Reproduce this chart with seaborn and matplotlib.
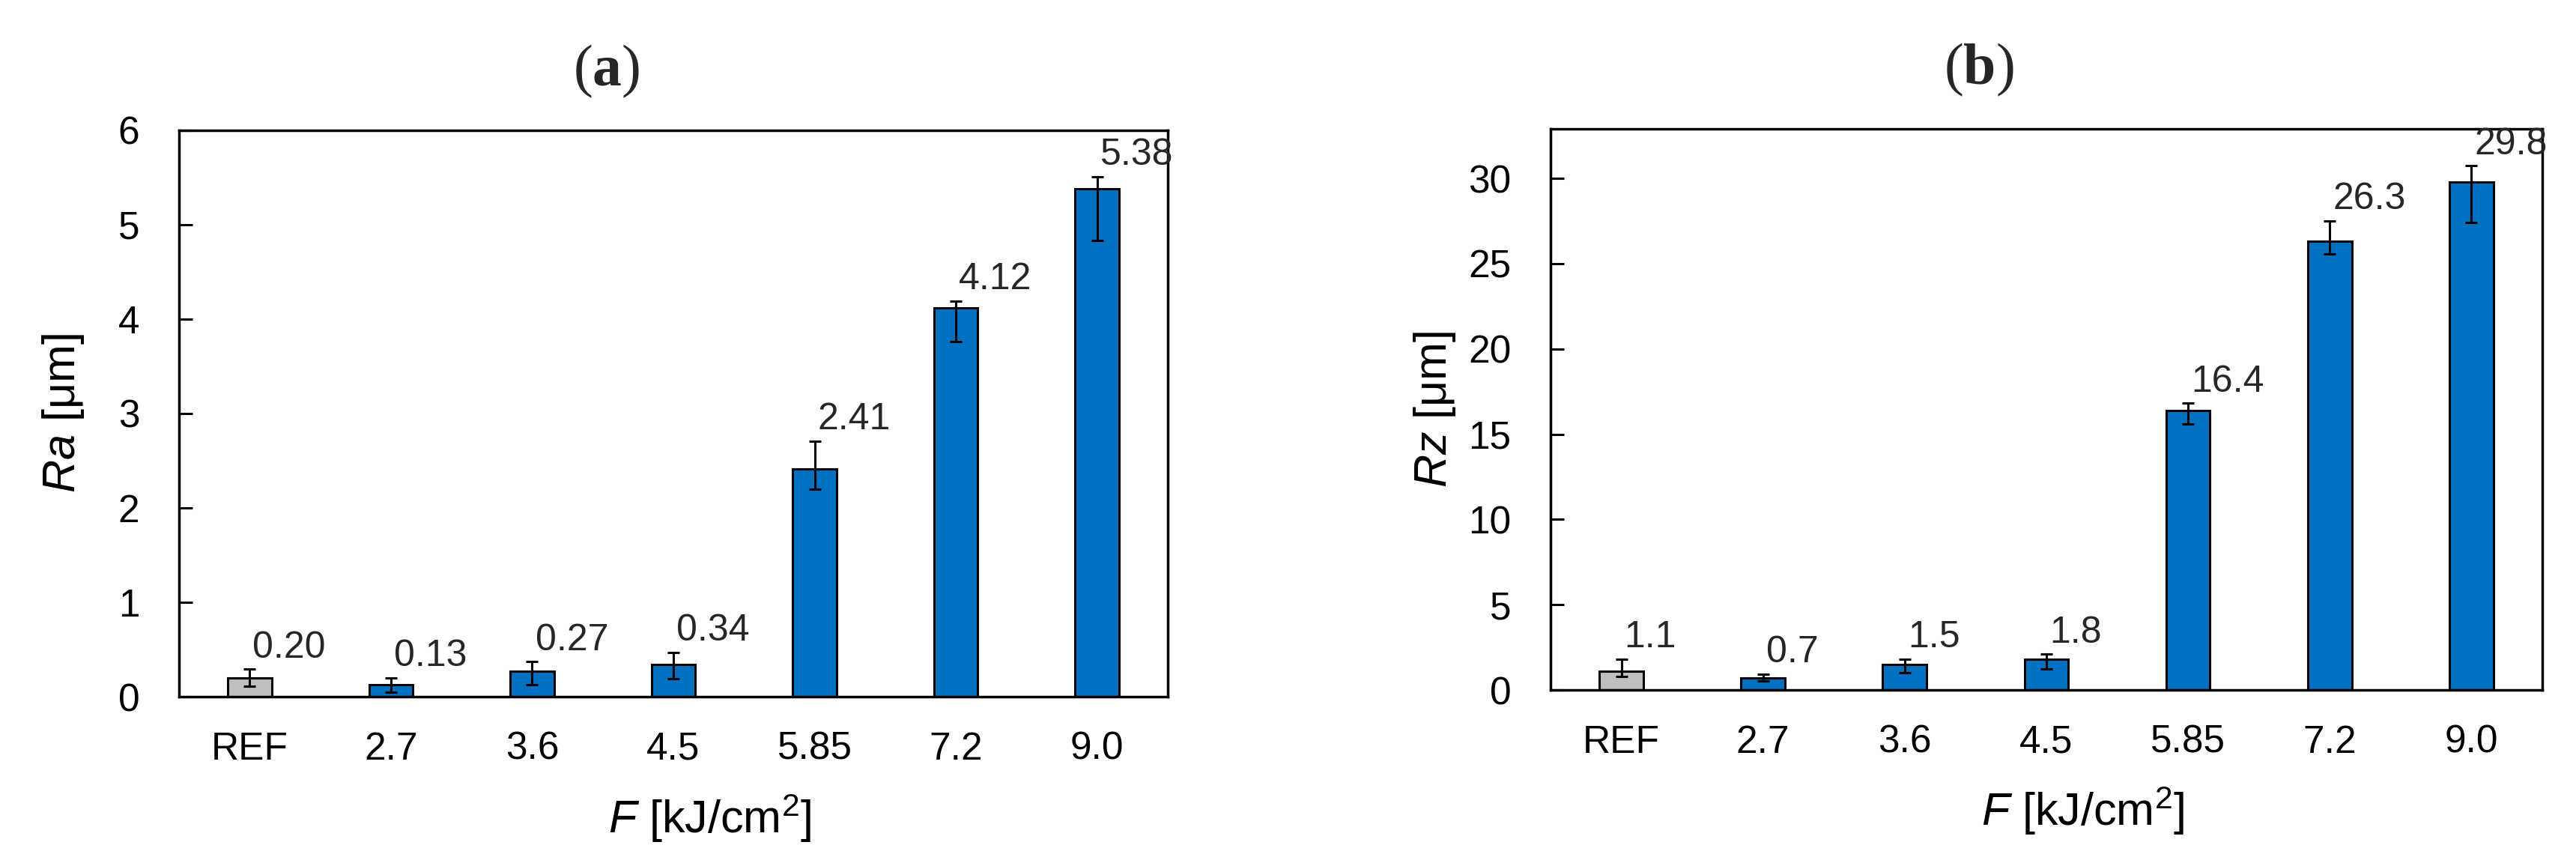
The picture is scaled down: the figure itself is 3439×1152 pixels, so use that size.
import numpy as np
import pandas as pd
import matplotlib
matplotlib.use('Agg')
import matplotlib.pyplot as plt
import seaborn as sns

# fluence categories (x axis)
fluence = ['REF', '2.7', '3.6', '4.5', '5.85', '7.2', '9.0']
bar_colors = ['#BFBFBF', '#0070C0', '#0070C0', '#0070C0', '#0070C0', '#0070C0', '#0070C0']

# (a) Ra
ra = [0.20, 0.13, 0.27, 0.34, 2.41, 4.12, 5.38]
ra_err_lo = [0.09, 0.08, 0.14, 0.15, 0.21, 0.36, 0.55]
ra_err_hi = [0.09, 0.07, 0.10, 0.13, 0.30, 0.07, 0.13]
ra_labels = ['0.20', '0.13', '0.27', '0.34', '2.41', '4.12', '5.38']

# (b) Rz
rz = [1.1, 0.7, 1.5, 1.8, 16.4, 26.3, 29.8]
rz_err_lo = [0.30, 0.18, 0.50, 0.57, 0.80, 0.75, 2.39]
rz_err_hi = [0.70, 0.24, 0.31, 0.30, 0.41, 1.20, 0.94]
rz_labels = ['1.1', '0.7', '1.5', '1.8', '16.4', '26.3', '29.8']

sns.set_theme(style='white')
plt.rcParams['font.family'] = ['Liberation Sans', 'DejaVu Sans']
plt.rcParams['mathtext.fontset'] = 'custom'
plt.rcParams['mathtext.rm'] = 'Liberation Sans'
plt.rcParams['mathtext.it'] = 'Liberation Sans:italic'
plt.rcParams['mathtext.bf'] = 'Liberation Serif:bold'


def draw_panel(ax, vals, lo, hi, labels, ylabel, ylim, yticks, title):
    df = pd.DataFrame({'F': fluence, 'v': vals})
    sns.barplot(data=df, x='F', y='v', hue='F', palette=bar_colors, legend=False,
                width=0.31, edgecolor='black', linewidth=2.2, saturation=1, ax=ax)
    ax.errorbar(np.arange(len(vals)), vals, yerr=[lo, hi], fmt='none', ecolor='black',
                elinewidth=2.2, capsize=6, capthick=2.2)
    # data labels sit just above/right of the error bar top
    for i, (v, h, t) in enumerate(zip(vals, hi, labels)):
        ax.annotate(t, (i, v + h), xytext=(3, 4), textcoords='offset points',
                    ha='left', va='bottom', fontsize=36)
    ax.set_xlim(-0.5, len(vals) - 0.5)
    ax.set_ylim(*ylim)
    ax.set_yticks(yticks)
    for s in ax.spines.values():
        s.set_visible(True)
        s.set_color('black')
        s.set_linewidth(2.5)
    ax.tick_params(axis='y', left=True, direction='in', length=13, width=2.2,
                   labelsize=37, pad=38, colors='black')
    ax.tick_params(axis='x', bottom=True, length=0, labelsize=37, pad=33, colors='black')
    ax.set_xlabel(r'$\mathit{F}$ [kJ/cm$^{2}$]', fontsize=44, color='black', va='center')
    ax.xaxis.set_label_coords(0.537, -0.215)
    ax.set_ylabel(ylabel, fontsize=44, color='black', va='center')
    ax.yaxis.set_label_coords(-0.117, 0.5)
    ax.set_title(title, fontsize=56, family='Liberation Serif', x=0.432, pad=43)


fig = plt.figure(figsize=(34.39, 11.52), dpi=100)
ax1 = fig.add_axes([0.0695, 0.1927, 0.3838, 0.6563])
ax2 = fig.add_axes([0.6019, 0.2005, 0.3850, 0.6502])

draw_panel(ax1, ra, ra_err_lo, ra_err_hi, ra_labels, r'$\mathit{Ra}$ [μm]',
           (0, 6), [0, 1, 2, 3, 4, 5, 6], r'($\mathbf{a}$)')
draw_panel(ax2, rz, rz_err_lo, rz_err_hi, rz_labels, r'$\mathit{Rz}$ [μm]',
           (0, 32.9), [0, 5, 10, 15, 20, 25, 30], r'($\mathbf{b}$)')

fig.savefig('out.png', dpi=100)
